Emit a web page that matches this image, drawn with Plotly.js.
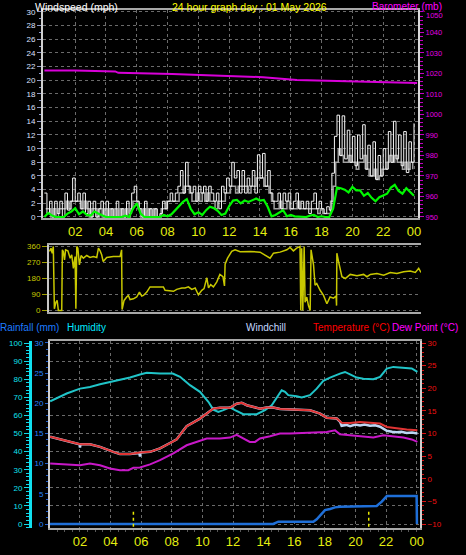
<!DOCTYPE html>
<html><head><meta charset="utf-8">
<script src="https://cdn.plot.ly/plotly-3.0.1.min.js"></script>
<style>html,body{margin:0;padding:0;background:#000;}#chart{width:466px;height:555px;}</style>
</head><body><div id="chart"></div>
<script>
// ---------- tick labels ----------
const hourTicks = [2,4,6,8,10,12,14,16,18,20,22,24];
const hourLabels = ['02','04','06','08','10','12','14','16','18','20','22','00'];
const dirTicks = [0,90,180,270,360];
const dirLabels = ['N','E','S','W','N'];
const baroTicks = [950,960,970,980,990,1000,1010,1020,1030,1040];
const baroTopLabel = '1050';

// ---------- wind (mph), gust every 10 min from 00:00 ----------
const gust10 = [
 3.5,0.5,2.3,0,2.3,0.5,
 2.3,0,3.5,1,2.3,5.7,
 2.3,3.5,1.2,3.5,0.5,2.3,
 0,2.3,0,1.2,2.3,0,
 2.3,0,1.2,0,2.3,0,
 1.2,0,2.3,0.5,3.5,4.5,
 2.3,1.2,0,2.3,0,1.2,
 0,1.2,0,0.5,2.3,1.2,
 2.3,3.5,2.3,3.5,4.5,6.8,
 3.5,8,4.5,3.5,4.5,2.3,
 4.5,3.5,4.5,2.3,4.5,3.5,
 2.3,3.5,1.2,4.5,3.5,5.7,
 4.5,8,5.7,6.8,3.5,6.8,
 3.5,5.7,4.5,6.8,3.5,9.1,
 5.7,9.3,4.5,6.8,3.5,2.3,
 2.3,3.5,1.2,3.5,2.3,3.5,
 1.2,2.3,3.5,1.2,2.3,1.2,
 2.3,0.5,2.3,3.5,1.2,2.3,
 1.2,0.5,1.5,1,6.4,11.8,
 14.9,9,14.8,8.5,12.7,8,
 11.8,7.5,12,8.5,13.5,7,
 10.5,6,11,5.5,9,6,
 10,7,12.5,8,14,8.5,
 12,7.5,12.5,6.5,11,8,
 13.7];
// wind speed every 10 min starting 00:05
const speed10 = [
 1.2,1.2,0,1.2,0,1.2,
 1.2,1.2,2.3,1.2,2.3,2.3,
 2.3,2.3,1.2,2.3,1.2,0,
 1.2,1.2,0,1.2,0,1.2,
 0,1.2,0,1.2,0,1.2,
 0,1.2,0,1.2,2.3,2.3,
 1.2,0,1.2,0,1.2,0,
 1.2,0,0,1.2,1.2,2.3,
 2.3,2.3,2.3,2.3,3.5,3.5,
 4.5,4.5,3.5,2.3,2.3,3.5,
 2.3,3.5,2.3,3.5,2.3,2.3,
 1.2,2.3,2.3,2.3,3.5,3.5,
 4.5,4.5,3.5,4.5,4.5,4.5,
 4.5,3.5,4.5,4.5,5.7,5.7,
 5.7,4.5,4.5,3.5,2.3,1.2,
 1.2,2.3,1.2,1.2,2.3,1.2,
 1.2,1.2,2.3,1.2,1.2,1.2,
 1.2,1.2,1.2,1.2,0.5,1.2,
 0.5,0.5,0.5,2.3,4.5,8,
 10,9,8,8,9,8,
 8,7,8,8,9,7,
 6,6,7,5.5,6,7,
 7,8,9,8,9,8,
 8,7,8,7,8,7];
// average speed every 15 min
const avg15 = [
 0,0.6,0.2,0, 0,0,0.5,0.8, 1.3,0.4,0.8,0.3, 0.2,0.8,0.5,0.2,
 0,0,0,0, 0,0.2,0,1.2, 2,0.5,0,0, 0,0,0,0.3,
 0.1,0.4,1.0,1.5, 2.2,2.6,1.2,0.4, 0.7,0.3,1.0,1.5, 1.3,0.9,0.3,0.5,
 1.6,2.4,2.5,2.0, 2.4,2.2,2.4,2.7, 2.4,2.5,1.5,0.1, 0.3,0.6,1.0,0.1,
 0.3,0.1,0.1,0, 0,0.2,0.3,0, 0.1,0,0,1.2, 4.3,4.2,4.0,3.6,
 4.4,3.9,3.9,3.1, 3.5,2.8,2.3,2.9, 3.2,3.4,4.3,4.7, 3.8,3.4,4.2,3.6,
 3.1];

// ---------- barometer (mb) ----------
const baroHours = [0,2,4.6,4.8,8.3,10.6,12,14.2,16.4,19,22,23.3,24.2];
const baroVals  = [1021.4,1021.4,1021.0,1020.3,1019.8,1019.1,1018.6,1018.2,1016.8,1016.3,1016.0,1015.4,1015.3];

// ---------- wind direction (deg) ----------
const dirHours = [0.0,0.1,0.18,0.25,0.32,0.42,0.5,0.58,0.8,0.84,0.9,0.98,1.05,1.2,1.35,1.45,1.56,1.67,1.72,1.78,1.85,1.95,2.06,2.21,2.43,2.64,2.86,3.08,3.19,3.3,3.4,3.5,3.73,4.16,4.6,4.7,4.73,4.86,5.03,5.14,5.25,5.47,5.68,5.86,6.01,6.12,6.34,6.55,6.77,7.42,7.53,7.86,8.08,8.29,8.62,8.83,9.05,9.27,9.49,9.7,9.92,10.07,10.25,10.36,10.5,10.68,10.9,11.1,11.3,11.4,11.44,11.6,11.87,12.09,12.42,13.07,13.72,14.37,14.59,15.02,15.46,15.67,15.89,16.1,16.32,16.37,16.43,16.5,16.59,16.65,16.76,16.87,16.98,17.04,17.2,17.3,17.41,17.63,17.85,18.07,18.28,18.5,18.67,18.7,18.72,18.83,19.05,19.27,19.59,20.03,20.46,20.68,20.9,21.33,21.77,22.2,22.63,23.07,23.5,23.83,24.05,24.2];
const dirDeg = [332,350,322,360,10,47,57,0,0,341,332,284,341,335,294,313,237,303,10,360,350,256,309,294,309,298,303,298,350,335,313,275,298,303,303,341,6,57,76,85,62,66,76,104,81,85,104,133,133,133,114,108,108,119,127,127,133,119,127,89,114,123,184,127,146,133,161,203,190,138,260,294,332,341,330,332,328,294,322,328,341,354,335,350,360,0,350,0,360,47,76,28,0,341,256,142,152,114,85,38,76,70,81,28,322,275,190,180,203,195,203,190,203,208,199,214,208,218,222,214,237,214];

// ---------- bottom panel ----------
const humHours = [0.05,0.58,1.13,2.0,2.65,3.31,3.96,4.61,5.27,5.92,6.36,7.23,8.06,8.54,9.19,9.84,10.39,10.71,11.04,11.37,11.8,12.13,12.67,13.55,14.09,14.53,14.86,15.18,15.4,15.61,16.16,16.49,17.03,17.47,17.9,18.34,18.99,19.32,19.65,20.08,20.52,21.17,21.61,22.05,22.48,23.13,23.68,24.05];
const humVals  = [67.8,69.9,72.1,74.8,75.7,77.2,78.5,79.4,80.9,82.6,83.5,83.1,83.1,81.3,76.7,73.0,67.5,63.2,61.9,62.9,64.4,62.9,60.7,60.7,62.9,65.6,70.2,73.9,73.0,71.2,70.6,69.9,71.2,74.8,79.1,80.9,83.1,84.0,82.7,80.9,80.3,80.0,81.3,85.9,86.8,86.4,85.9,84.0];

const tempHours = [0.05,1.13,2.0,2.65,3.31,4.18,4.61,5.27,5.92,6.58,7.23,7.88,8.32,8.65,8.97,9.84,10.71,11.15,11.8,12.24,12.57,12.9,13.33,13.76,14.2,14.63,15.07,15.72,16.37,17.03,17.69,18.12,18.78,19.1,19.65,20.3,20.95,21.61,22.05,22.7,23.35,24.05];
const tempVals  = [9.3,8.4,7.65,7.6,7.05,5.95,5.45,5.45,5.8,5.95,6.7,7.9,8.7,10.2,11.6,13.3,15.5,15.7,15.7,16.6,16.8,16.25,15.9,15.5,15.74,15.74,15.44,15.3,15.3,15.15,14.4,13.5,13.3,12.4,12.35,12.55,12.4,12.2,11.46,11.1,10.9,10.74];

const chillHours = [0.05,1.13,1.97,2.0,2.03,2.65,3.31,4.18,4.61,5.27,5.88,5.92,5.96,6.58,7.23,7.88,8.32,8.65,8.97,9.84,10.71,11.15,11.8,12.24,12.57,12.9,13.33,13.76,14.2,14.63,15.07,15.72,16.37,17.03,17.69,18.12,18.78,19.0,19.1,19.4,19.65,20.0,20.3,20.6,20.95,21.3,21.61,22.05,22.4,22.7,23.0,23.35,23.7,24.05];
const chillVals  = [9.3,8.4,7.6,6.9,7.6,7.6,7.05,5.95,5.45,5.45,5.7,4.9,5.8,5.95,6.7,7.9,8.7,10.2,11.6,13.3,15.5,15.7,15.7,16.6,16.8,16.25,15.9,15.5,15.74,15.74,15.44,15.3,15.3,15.15,14.4,13.5,13.3,12.6,11.7,11.9,11.6,12.0,11.8,12.0,11.7,11.8,11.5,10.6,10.4,10.3,10.4,10.1,10.2,10.0];

const dewHours = [0.05,1.13,2.0,2.65,3.31,3.96,4.61,5.16,5.49,5.92,6.58,7.23,8.1,8.97,9.84,10.28,11.15,11.8,12.24,12.67,13.1,13.44,13.76,14.42,15.07,15.72,16.37,17.25,18.12,18.67,18.99,19.65,20.52,21.17,21.82,22.48,23.13,23.68,24.05];
const dewVals  = [3.4,3.17,3.0,3.39,3.0,2.28,1.9,1.9,2.42,2.5,3.17,4.1,5.6,7.4,8.5,8.9,8.9,9.1,9.7,8.9,8.15,8.15,8.9,9.4,10.0,10.0,10.1,10.1,10.36,10.7,9.85,9.6,9.26,9.1,9.6,9.4,9.1,8.7,8.15];

const rainHours = [0,14.63,14.96,17.25,17.47,17.8,18.01,18.34,18.67,18.99,21.39,21.72,22.05,24.0,24.02];
const rainVals  = [0,0,0.38,0.38,0.78,1.77,2.3,2.5,2.76,2.87,2.98,3.7,4.63,4.63,0];

const sunHours = [5.49, 20.87];

// ---------- helpers ----------
const W = 466, H = 555;
const px = v => v / W;
const py = v => 1 - v / H;
const FONT = 'Liberation Sans, Arial, sans-serif';
const NARROW = 'Liberation Sans Narrow, Arial Narrow, Liberation Sans, Arial, sans-serif';
const GRID = '#6a6a6a';

const gustX = gust10.map((_, i) => i / 6);
const speedX = speed10.map((_, i) => (i * 10 + 5) / 60);
const avgX = avg15.map((_, i) => i / 4);
const sunX = [], sunY = [];
sunHours.forEach(h => { sunX.push(h, h, null); sunY.push(-0.45, 2.48, null); });

const traces = [
  {x: speedX, y: speed10, xaxis:'x', yaxis:'y', mode:'lines', line:{color:'#a0a0a0', width:1.5, shape:'hv'}},
  {x: gustX, y: gust10, xaxis:'x', yaxis:'y', mode:'lines', line:{color:'#f4f4f4', width:1, shape:'hv'}},
  {x: avgX, y: avg15, xaxis:'x', yaxis:'y', mode:'lines', line:{color:'#00f800', width:2.2}},
  {x: baroHours, y: baroVals, xaxis:'x', yaxis:'y2', mode:'lines', line:{color:'#d800d8', width:2}},
  {x: dirHours, y: dirDeg, xaxis:'x2', yaxis:'y3', mode:'lines', line:{color:'#c8c800', width:1.5}},
  {x: rainHours, y: rainVals, xaxis:'x3', yaxis:'y5', mode:'lines', line:{color:'#1f6fd8', width:2.5}},
  {x: sunX, y: sunY, xaxis:'x3', yaxis:'y5', mode:'lines', line:{color:'#e8e800', width:1.5, dash:'dot'}},
  {x: humHours, y: humVals, xaxis:'x3', yaxis:'y6', mode:'lines', line:{color:'#20c4c8', width:2}},
  {x: dewHours, y: dewVals, xaxis:'x3', yaxis:'y7', mode:'lines', line:{color:'#c818c8', width:2}},
  {x: chillHours, y: chillVals, xaxis:'x3', yaxis:'y7', mode:'lines', line:{color:'#bcd6f4', width:2.5}},
  {x: tempHours, y: tempVals, xaxis:'x3', yaxis:'y7', mode:'lines', line:{color:'#e03434', width:2}}
];

const ann = (text, x, y, color, size, yanchor) => ({text, x: px(x), y: py(y), xref:'paper', yref:'paper',
  xanchor:'left', yanchor: yanchor || 'middle', showarrow:false, borderpad:0, font:{family:FONT, size, color}});

const layout = {
  width: W, height: H, margin:{l:0,r:0,t:0,b:0},
  paper_bgcolor:'#000', plot_bgcolor:'#000', showlegend:false,
  xaxis: {domain:[px(43), px(418)], range:[-0.09, 24.26], anchor:'y',
    tickvals: hourTicks, ticktext: hourLabels, tickfont:{family:NARROW, size:13, color:'#e4ee10'},
    ticks:'', showgrid:true, gridcolor:GRID, griddash:'dot', gridwidth:1,
    showline:true, linecolor:'#a8a8a8', linewidth:2, mirror:true, zeroline:false},
  yaxis: {domain:[py(218), py(10)], range:[-0.15, 30.29], anchor:'x',
    tickvals:[0,2,4,6,8,10,12,14,16,18,20,22,24,26,28,30], tickfont:{family:FONT, size:8, color:'#dde0ff'},
    ticks:'outside', ticklen:4, tickcolor:'#8c98c8',
    minor:{dtick:1, ticks:'outside', ticklen:2, tickcolor:'#8c98c8', showgrid:false},
    showgrid:true, gridcolor:GRID, griddash:'dot', gridwidth:1,
    showline:true, linecolor:'#d0d0d0', linewidth:2, zeroline:false},
  yaxis2: {overlaying:'y', side:'right', anchor:'x', range:[949.5, 1050.97],
    tickvals: baroTicks, tickfont:{family:FONT, size:7.5, color:'#e000e0'},
    ticks:'outside', ticklen:4, tickcolor:'#c000c0',
    minor:{dtick:2, ticks:'outside', ticklen:3, tickcolor:'#c000c0', showgrid:false},
    showgrid:false, showline:true, linecolor:'#d8d8d8', linewidth:2, zeroline:false},
  xaxis2: {domain:[px(49), px(421)], range:[-0.03, 24.2], anchor:'y3',
    showticklabels:false, ticks:'', showgrid:false,
    showline:true, linecolor:'#a8a8a8', linewidth:2, mirror:true, zeroline:false},
  yaxis3: {domain:[py(312), py(245)], range:[-8, 368], anchor:'x2',
    tickvals: dirTicks, tickfont:{family:FONT, size:8, color:'#c8c800'},
    ticks:'outside', ticklen:5, tickcolor:'#a0a000',
    showgrid:true, gridcolor:GRID, griddash:'dot', gridwidth:1,
    showline:true, linecolor:'#c8c8c8', linewidth:2, zeroline:false},
  yaxis4: {overlaying:'y3', side:'right', anchor:'x2', range:[-8, 368],
    tickvals: dirTicks, ticktext: dirLabels, tickfont:{family:FONT, size:12, color:'#f0f000'},
    ticks:'', ticklabelstandoff:11, showgrid:false, showline:false, zeroline:false},
  xaxis3: {domain:[px(50), px(420)], range:[0.04, 24.22], anchor:'y5',
    tickvals: hourTicks, ticktext: hourLabels, tickfont:{family:NARROW, size:13, color:'#e4ee10'},
    ticks:'', showgrid:true, gridcolor:GRID, griddash:'dot', gridwidth:1,
    minor:{dtick:0.5, ticks:'outside', ticklen:2, tickcolor:'#585858', showgrid:false},
    showline:true, linecolor:'#a8a8a8', linewidth:2, mirror:true, zeroline:false},
  yaxis5: {domain:[py(528), py(340.7)], range:[-0.662, 30.38], anchor:'x3',
    tickvals:[0,5,10,15,20,25,30], tickfont:{family:FONT, size:8, color:'#2a86ff'},
    ticks:'outside', ticklen:3, tickcolor:'#2060d0',
    minor:{dtick:1, ticks:'outside', ticklen:2, tickcolor:'#2060d0', showgrid:false},
    showgrid:false, showline:true, linecolor:'#d0d0d0', linewidth:2, zeroline:false},
  yaxis6: {overlaying:'y5', anchor:'free', position:px(30), side:'left', range:[-2.207, 101.27],
    tick0:0, dtick:10, tickfont:{family:FONT, size:8, color:'#10e0f0'},
    ticks:'outside', ticklen:5, tickcolor:'#10d8e8',
    minor:{dtick:2, ticks:'outside', ticklen:3, tickcolor:'#10d8e8', showgrid:false},
    showgrid:true, gridcolor:GRID, griddash:'dot', gridwidth:1,
    showline:true, linecolor:'#10e0f0', linewidth:3, zeroline:false},
  yaxis7: {overlaying:'y5', side:'right', anchor:'x3', range:[-10.88, 30.51],
    tick0:-10, dtick:5, tickfont:{family:FONT, size:8, color:'#f01010'},
    ticks:'outside', ticklen:4, tickcolor:'#e01010',
    minor:{dtick:1, ticks:'outside', ticklen:2, tickcolor:'#e01010', showgrid:false},
    showgrid:false, showline:true, linecolor:'#d0d0d0', linewidth:2, zeroline:false},
  annotations: [
    ann('Windspeed (mph)', 34, 0, '#ffffff', 10.5, 'top'),
    ann('24 hour graph day : 01 May 2026', 171, 0, '#ffff00', 10.5, 'top'),
    ann('Barometer (mb)', 371, 0, '#ff00ff', 10, 'top'),
    {text: baroTopLabel, x: px(425), y: py(15.5), xref:'paper', yref:'paper', xanchor:'left', yanchor:'middle',
     showarrow:false, borderpad:0, font:{family:FONT, size:7.5, color:'#e000e0'}},
    ann('Rainfall (mm)', -1, 327, '#1e7cff', 10),
    ann('Humidity', 66, 327, '#00e8ff', 10),
    ann('Windchill', 245, 327, '#c4d8ff', 10),
    ann('Temperature (°C)', 312, 327, '#ff0000', 10),
    ann('Dew Point (°C)', 391, 327, '#ff00ff', 10)
  ]
};

Plotly.newPlot('chart', traces, layout, {staticPlot:true, displayModeBar:false});
</script>
</body></html>
